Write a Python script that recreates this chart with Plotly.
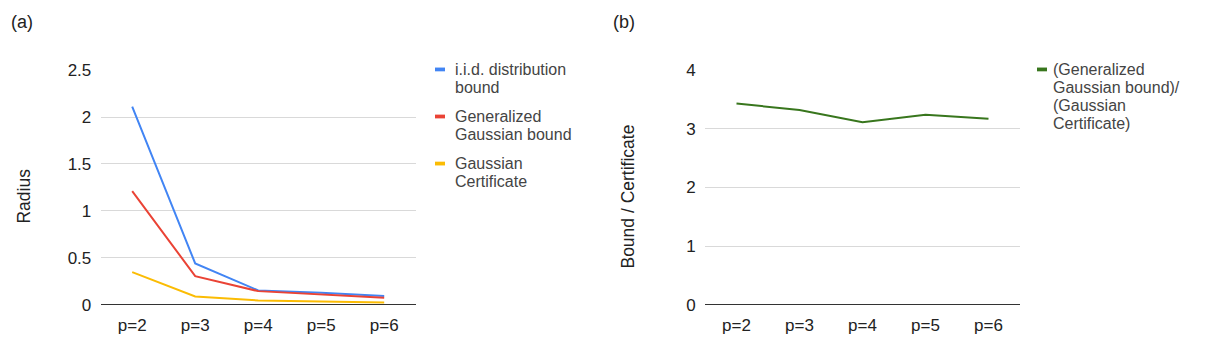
import plotly.graph_objects as go

W, H = 1206, 345

categories = ["p=2", "p=3", "p=4", "p=5", "p=6"]
iid_bound = [2.11, 0.44, 0.152, 0.128, 0.092]
gen_gauss_bound = [1.21, 0.305, 0.145, 0.11, 0.075]
gauss_cert = [0.348, 0.088, 0.046, 0.034, 0.023]
ratio = [3.43, 3.32, 3.11, 3.24, 3.17]

names_a = [["i.i.d. distribution", "bound"],
           ["Generalized", "Gaussian bound"],
           ["Gaussian", "Certificate"]]
names_b = [["(Generalized", "Gaussian bound)/", "(Gaussian", "Certificate)"]]
colors_a = ["#4285F4", "#EA4335", "#FBBC04"]
color_b = "#38761D"

FONT = "Liberation Sans, Arial, sans-serif"


def px(x):
    return x / W


def py(y):
    return 1 - y / H


fig = go.Figure()

for vals, nm, c in zip([iid_bound, gen_gauss_bound, gauss_cert], names_a, colors_a):
    fig.add_trace(go.Scatter(x=categories, y=vals, mode="lines", name=" ".join(nm),
                             line=dict(color=c, width=2), xaxis="x", yaxis="y",
                             showlegend=False))

fig.add_trace(go.Scatter(x=categories, y=ratio, mode="lines", name=" ".join(names_b[0]),
                         line=dict(color=color_b, width=2), xaxis="x2", yaxis="y2",
                         showlegend=False))

ydom = [py(304.5), py(56.2)]
tickfont = dict(family=FONT, size=17, color="#222222")
yax = dict(showgrid=True, gridcolor="#d9d9d9", gridwidth=1, tickfont=tickfont,
           zeroline=True, zerolinecolor="#333333", zerolinewidth=1,
           showline=False, fixedrange=True,
           ticks="outside", ticklen=5, tickcolor="rgba(0,0,0,0)")
xax = dict(type="category", range=[-0.5, 4.5], showgrid=False, tickfont=tickfont,
           ticks="outside", ticklen=5, tickcolor="rgba(0,0,0,0)", fixedrange=True)

fig.update_layout(
    width=W, height=H, autosize=False,
    margin=dict(l=0, r=0, t=0, b=0),
    paper_bgcolor="white", plot_bgcolor="white",
    font=dict(family=FONT, color="#222222"),
    xaxis=dict(domain=[px(92.7), px(407.7)], anchor="y", **xax),
    yaxis=dict(domain=ydom, range=[0, 2.5], tickvals=[0, 0.5, 1, 1.5, 2, 2.5],
               ticktext=["0", "0.5", "1", "1.5", "2", "2.5"], anchor="x", **yax),
    xaxis2=dict(domain=[px(697), px(1012)], anchor="y2", **xax),
    yaxis2=dict(domain=ydom, range=[0, 4], tickvals=[0, 1, 2, 3, 4], anchor="x2", **yax),
)

ann = []
shapes = []

# panel labels
for t, x in [("(a)", 1), ("(b)", 603)]:
    ann.append(dict(text=t, x=px(x), y=py(5), xref="paper", yref="paper",
                    xanchor="left", yanchor="middle", showarrow=False,
                    font=dict(family=FONT, size=18, color="#222222")))

# y axis titles
for t, x in [("Radius", 16), ("Bound / Certificate", 620)]:
    ann.append(dict(text=t, x=px(x), y=py(190), xref="paper", yref="paper",
                    xanchor="center", yanchor="middle", showarrow=False, textangle=-90,
                    font=dict(family=FONT, size=17.5, color="#222222")))


def legend(entries, colors, icon_x, text_x, y0, line_gap, entry_gap):
    y = y0
    for lines, c in zip(entries, colors):
        shapes.append(dict(type="rect", xref="paper", yref="paper",
                           x0=px(icon_x), x1=px(icon_x + 10),
                           y0=py(y - 2), y1=py(y + 2),
                           fillcolor=c, line=dict(width=0)))
        for i, t in enumerate(lines):
            ann.append(dict(text=t, x=px(text_x), y=py(y + i * line_gap),
                            xref="paper", yref="paper", xanchor="left",
                            yanchor="middle", showarrow=False,
                            font=dict(family=FONT, size=16, color="#444444")))
        y += entry_gap


legend(names_a, colors_a, 427, 445, 55.5, 19.0, 49.8)
legend(names_b, [color_b], 1029, 1043, 55.5, 19.0, 0)

fig.update_layout(annotations=ann, shapes=shapes)

fig.write_html("out.html")
